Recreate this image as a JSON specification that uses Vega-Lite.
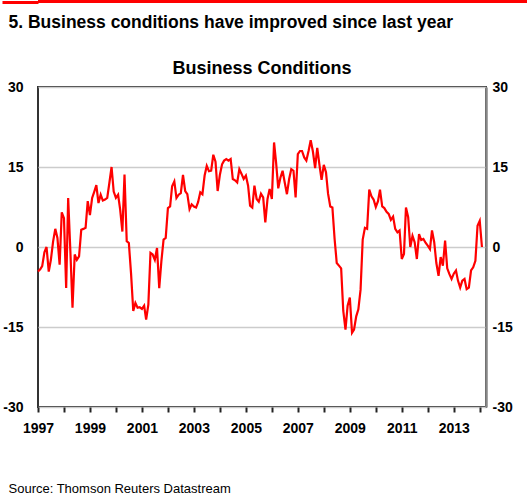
{
  "$schema": "https://vega.github.io/schema/vega-lite/v6.json",
  "padding": 0,
  "background": "white",
  "title": {"text": "Source: Thomson Reuters Datastream", "orient": "bottom", "anchor": "start", "frame": "bounds", "font": "Liberation Sans", "fontSize": 13, "fontWeight": "normal", "color": "#000000", "offset": 47, "dx": 8},
  "datasets": {
    "bc": [
      {"date": "1997-01-01", "value": -4.6}, {"date": "1997-02-01", "value": -4.2}, {"date": "1997-03-01", "value": -3.6}, {"date": "1997-04-01", "value": -1.0}, {"date": "1997-05-01", "value": 0.0}, {"date": "1997-06-01", "value": -4.6}, {"date": "1997-07-01", "value": -2.4}, {"date": "1997-08-01", "value": 1.0}, {"date": "1997-09-01", "value": 3.4}, {"date": "1997-10-01", "value": 1.7}, {"date": "1997-11-01", "value": -3.3}, {"date": "1997-12-01", "value": 6.5},
      {"date": "1998-01-01", "value": 5.4}, {"date": "1998-02-01", "value": -7.7}, {"date": "1998-03-01", "value": 9.2}, {"date": "1998-04-01", "value": -0.8}, {"date": "1998-05-01", "value": -11.4}, {"date": "1998-06-01", "value": -1.4}, {"date": "1998-07-01", "value": -2.4}, {"date": "1998-08-01", "value": -1.75}, {"date": "1998-09-01", "value": 3.25}, {"date": "1998-10-01", "value": 3.4}, {"date": "1998-11-01", "value": 3.6}, {"date": "1998-12-01", "value": 8.6},
      {"date": "1999-01-01", "value": 6.0}, {"date": "1999-02-01", "value": 9.2}, {"date": "1999-03-01", "value": 10.3}, {"date": "1999-04-01", "value": 11.6}, {"date": "1999-05-01", "value": 8.25}, {"date": "1999-06-01", "value": 9.8}, {"date": "1999-07-01", "value": 8.7}, {"date": "1999-08-01", "value": 8.9}, {"date": "1999-09-01", "value": 9.2}, {"date": "1999-10-01", "value": 12.0}, {"date": "1999-11-01", "value": 15.0}, {"date": "1999-12-01", "value": 10.4},
      {"date": "2000-01-01", "value": 9.2}, {"date": "2000-02-01", "value": 9.8}, {"date": "2000-03-01", "value": 7.0}, {"date": "2000-04-01", "value": 2.9}, {"date": "2000-05-01", "value": 13.6}, {"date": "2000-06-01", "value": 1.1}, {"date": "2000-07-01", "value": 0.75}, {"date": "2000-08-01", "value": -5.0}, {"date": "2000-09-01", "value": -12.0}, {"date": "2000-10-01", "value": -10.5}, {"date": "2000-11-01", "value": -11.4}, {"date": "2000-12-01", "value": -11.3},
      {"date": "2001-01-01", "value": -11.6}, {"date": "2001-02-01", "value": -11.0}, {"date": "2001-03-01", "value": -13.6}, {"date": "2001-04-01", "value": -10.8}, {"date": "2001-05-01", "value": -1.1}, {"date": "2001-06-01", "value": -1.4}, {"date": "2001-07-01", "value": -2.4}, {"date": "2001-08-01", "value": -0.2}, {"date": "2001-09-01", "value": -7.7}, {"date": "2001-10-01", "value": -2.7}, {"date": "2001-11-01", "value": 1.4}, {"date": "2001-12-01", "value": 1.7},
      {"date": "2002-01-01", "value": 7.3}, {"date": "2002-02-01", "value": 7.6}, {"date": "2002-03-01", "value": 11.4}, {"date": "2002-04-01", "value": 12.3}, {"date": "2002-05-01", "value": 9.2}, {"date": "2002-06-01", "value": 9.8}, {"date": "2002-07-01", "value": 10.1}, {"date": "2002-08-01", "value": 13.5}, {"date": "2002-09-01", "value": 10.5}, {"date": "2002-10-01", "value": 9.9}, {"date": "2002-11-01", "value": 7.1}, {"date": "2002-12-01", "value": 8.0},
      {"date": "2003-01-01", "value": 7.6}, {"date": "2003-02-01", "value": 7.4}, {"date": "2003-03-01", "value": 8.4}, {"date": "2003-04-01", "value": 10.25}, {"date": "2003-05-01", "value": 9.9}, {"date": "2003-06-01", "value": 13.4}, {"date": "2003-07-01", "value": 15.2}, {"date": "2003-08-01", "value": 14.2}, {"date": "2003-09-01", "value": 14.3}, {"date": "2003-10-01", "value": 17.3}, {"date": "2003-11-01", "value": 16.0}, {"date": "2003-12-01", "value": 10.5},
      {"date": "2004-01-01", "value": 13.5}, {"date": "2004-02-01", "value": 15.5}, {"date": "2004-03-01", "value": 16.2}, {"date": "2004-04-01", "value": 16.5}, {"date": "2004-05-01", "value": 16.2}, {"date": "2004-06-01", "value": 16.5}, {"date": "2004-07-01", "value": 12.75}, {"date": "2004-08-01", "value": 12.5}, {"date": "2004-09-01", "value": 12.1}, {"date": "2004-10-01", "value": 14.6}, {"date": "2004-11-01", "value": 13.7}, {"date": "2004-12-01", "value": 12.75},
      {"date": "2005-01-01", "value": 13.4}, {"date": "2005-02-01", "value": 11.5}, {"date": "2005-03-01", "value": 7.75}, {"date": "2005-04-01", "value": 7.4}, {"date": "2005-05-01", "value": 11.5}, {"date": "2005-06-01", "value": 9.0}, {"date": "2005-07-01", "value": 8.5}, {"date": "2005-08-01", "value": 10.0}, {"date": "2005-09-01", "value": 9.3}, {"date": "2005-10-01", "value": 4.6}, {"date": "2005-11-01", "value": 9.0}, {"date": "2005-12-01", "value": 10.9},
      {"date": "2006-01-01", "value": 9.0}, {"date": "2006-02-01", "value": 19.6}, {"date": "2006-03-01", "value": 15.9}, {"date": "2006-04-01", "value": 11.0}, {"date": "2006-05-01", "value": 13.0}, {"date": "2006-06-01", "value": 14.3}, {"date": "2006-07-01", "value": 12.1}, {"date": "2006-08-01", "value": 9.9}, {"date": "2006-09-01", "value": 12.75}, {"date": "2006-10-01", "value": 14.6}, {"date": "2006-11-01", "value": 14.3}, {"date": "2006-12-01", "value": 9.3},
      {"date": "2007-01-01", "value": 17.4}, {"date": "2007-02-01", "value": 18.0}, {"date": "2007-03-01", "value": 18.0}, {"date": "2007-04-01", "value": 16.8}, {"date": "2007-05-01", "value": 16.2}, {"date": "2007-06-01", "value": 18.0}, {"date": "2007-07-01", "value": 20.0}, {"date": "2007-08-01", "value": 17.9}, {"date": "2007-09-01", "value": 14.8}, {"date": "2007-10-01", "value": 18.6}, {"date": "2007-11-01", "value": 15.4}, {"date": "2007-12-01", "value": 12.6},
      {"date": "2008-01-01", "value": 15.4}, {"date": "2008-02-01", "value": 14.0}, {"date": "2008-03-01", "value": 10.0}, {"date": "2008-04-01", "value": 7.6}, {"date": "2008-05-01", "value": 7.4}, {"date": "2008-06-01", "value": 1.5}, {"date": "2008-07-01", "value": -3.0}, {"date": "2008-08-01", "value": -3.5}, {"date": "2008-09-01", "value": -4.0}, {"date": "2008-10-01", "value": -12.0}, {"date": "2008-11-01", "value": -15.5}, {"date": "2008-12-01", "value": -11.0},
      {"date": "2009-01-01", "value": -9.5}, {"date": "2009-02-01", "value": -16.1}, {"date": "2009-03-01", "value": -15.5}, {"date": "2009-04-01", "value": -13.0}, {"date": "2009-05-01", "value": -11.7}, {"date": "2009-06-01", "value": -8.0}, {"date": "2009-07-01", "value": 1.4}, {"date": "2009-08-01", "value": 3.6}, {"date": "2009-09-01", "value": 3.4}, {"date": "2009-10-01", "value": 10.75}, {"date": "2009-11-01", "value": 9.5}, {"date": "2009-12-01", "value": 8.9},
      {"date": "2010-01-01", "value": 7.5}, {"date": "2010-02-01", "value": 8.6}, {"date": "2010-03-01", "value": 10.75}, {"date": "2010-04-01", "value": 7.6}, {"date": "2010-05-01", "value": 7.3}, {"date": "2010-06-01", "value": 6.6}, {"date": "2010-07-01", "value": 6.2}, {"date": "2010-08-01", "value": 5.1}, {"date": "2010-09-01", "value": 5.7}, {"date": "2010-10-01", "value": 3.4}, {"date": "2010-11-01", "value": 2.75}, {"date": "2010-12-01", "value": 3.1},
      {"date": "2011-01-01", "value": -2.25}, {"date": "2011-02-01", "value": -1.3}, {"date": "2011-03-01", "value": 7.4}, {"date": "2011-04-01", "value": 5.6}, {"date": "2011-05-01", "value": 0.0}, {"date": "2011-06-01", "value": 2.1}, {"date": "2011-07-01", "value": 0.9}, {"date": "2011-08-01", "value": -2.25}, {"date": "2011-09-01", "value": 2.4}, {"date": "2011-10-01", "value": 1.3}, {"date": "2011-11-01", "value": 1.5}, {"date": "2011-12-01", "value": 0.8},
      {"date": "2012-01-01", "value": 0.25}, {"date": "2012-02-01", "value": -0.4}, {"date": "2012-03-01", "value": 3.1}, {"date": "2012-04-01", "value": 0.9}, {"date": "2012-05-01", "value": -3.0}, {"date": "2012-06-01", "value": -5.4}, {"date": "2012-07-01", "value": -1.9}, {"date": "2012-08-01", "value": -3.5}, {"date": "2012-09-01", "value": 1.2}, {"date": "2012-10-01", "value": -4.0}, {"date": "2012-11-01", "value": -5.1}, {"date": "2012-12-01", "value": -6.0},
      {"date": "2013-01-01", "value": -5.0}, {"date": "2013-02-01", "value": -4.4}, {"date": "2013-03-01", "value": -6.3}, {"date": "2013-04-01", "value": -7.6}, {"date": "2013-05-01", "value": -6.3}, {"date": "2013-06-01", "value": -6.0}, {"date": "2013-07-01", "value": -7.9}, {"date": "2013-08-01", "value": -7.6}, {"date": "2013-09-01", "value": -4.4}, {"date": "2013-10-01", "value": -3.8}, {"date": "2013-11-01", "value": -2.6}, {"date": "2013-12-01", "value": 4.0},
      {"date": "2014-01-01", "value": 4.9}, {"date": "2014-02-01", "value": 0.0}
    ]
  },
  "vconcat": [
    {
      "data": {"values": []},
      "mark": {"type": "point", "opacity": 0},
      "width": 490,
      "height": 3,
      "view": {"stroke": null, "fill": "#ff0000"},
      "encoding": {
        "y": {
          "datum": 0.5, "type": "quantitative",
          "scale": {"domain": [0, 1], "nice": false, "zero": false},
          "axis": {"orient": "left", "title": null, "labels": false, "ticks": true, "tickSize": 36, "tickWidth": 3, "tickColor": "#ff0000", "grid": false, "domain": false, "values": [0.5]}
        }
      },
      "title": {"text": "5. Business conditions have improved since last year", "orient": "bottom", "anchor": "start", "frame": "bounds", "font": "Liberation Sans", "fontSize": 17.5, "fontWeight": "bold", "color": "#000000", "offset": 10, "dx": 8}
    },
    {
      "width": 448,
      "height": 320,
      "data": {"name": "bc"},
      "title": {"text": "Business Conditions", "anchor": "middle", "frame": "group", "font": "Liberation Sans", "fontSize": 18, "fontWeight": "bold", "color": "#000000", "offset": 2},
      "encoding": {
        "x": {
          "field": "date", "type": "temporal",
          "scale": {"type": "utc", "domain": [{"year": 1997, "month": 1, "date": 1, "utc": true}, {"year": 2014, "month": 3, "date": 30, "utc": true}]},
          "axis": {
            "title": null, "grid": false, "domain": false, "ticks": true, "tickSize": 5, "tickWidth": 2, "tickColor": "#222222",
            "values": [
              {"year": 1997, "month": 1, "date": 1, "utc": true}, {"year": 1998, "month": 1, "date": 1, "utc": true}, {"year": 1999, "month": 1, "date": 1, "utc": true}, {"year": 2000, "month": 1, "date": 1, "utc": true}, {"year": 2001, "month": 1, "date": 1, "utc": true}, {"year": 2002, "month": 1, "date": 1, "utc": true}, {"year": 2003, "month": 1, "date": 1, "utc": true}, {"year": 2004, "month": 1, "date": 1, "utc": true}, {"year": 2005, "month": 1, "date": 1, "utc": true}, {"year": 2006, "month": 1, "date": 1, "utc": true}, {"year": 2007, "month": 1, "date": 1, "utc": true}, {"year": 2008, "month": 1, "date": 1, "utc": true}, {"year": 2009, "month": 1, "date": 1, "utc": true}, {"year": 2010, "month": 1, "date": 1, "utc": true}, {"year": 2011, "month": 1, "date": 1, "utc": true}, {"year": 2012, "month": 1, "date": 1, "utc": true}, {"year": 2013, "month": 1, "date": 1, "utc": true}, {"year": 2014, "month": 1, "date": 1, "utc": true}
            ],
            "labelExpr": "utcyear(datum.value) % 2 == 1 ? utcFormat(datum.value, '%Y') : ''",
            "labelFont": "Liberation Sans", "labelFontSize": 14, "labelFontWeight": "bold", "labelColor": "#000000",
            "labelPadding": 9, "labelOverlap": false, "labelFlush": false
          }
        }
      },
      "layer": [
        {
          "mark": {"type": "line", "opacity": 0},
          "encoding": {
            "y": {
              "field": "value", "type": "quantitative",
              "scale": {"domain": [-30, 30], "nice": false},
              "axis": {"orient": "right", "title": null, "grid": false, "ticks": false, "domain": true, "domainColor": "#888888", "domainWidth": 2.5, "values": [-30, -15, 0, 15, 30], "labelExpr": "'' + datum.value", "labelFont": "Liberation Sans", "labelFontSize": 14, "labelFontWeight": "bold", "labelColor": "#000000", "labelPadding": 6, "labelFlush": false}
            }
          }
        },
        {
          "mark": {"type": "line", "color": "#ff0000", "strokeWidth": 2.2},
          "encoding": {
            "y": {
              "field": "value", "type": "quantitative",
              "scale": {"domain": [-30, 30], "nice": false},
              "axis": {"orient": "left", "title": null, "grid": true, "gridColor": "#cccccc", "gridWidth": 1.5, "ticks": false, "domain": false, "values": [-30, -15, 0, 15, 30], "labelExpr": "'' + datum.value", "labelFont": "Liberation Sans", "labelFontSize": 14, "labelFontWeight": "bold", "labelColor": "#000000", "labelPadding": 15, "labelFlush": false, "minExtent": 36, "maxExtent": 36}
            }
          }
        }
      ],
      "resolve": {"scale": {"y": "shared"}, "axis": {"y": "independent"}}
    }
  ],
  "spacing": 28,
  "config": {
    "view": {"stroke": "#333333", "strokeWidth": 2}
  }
}
